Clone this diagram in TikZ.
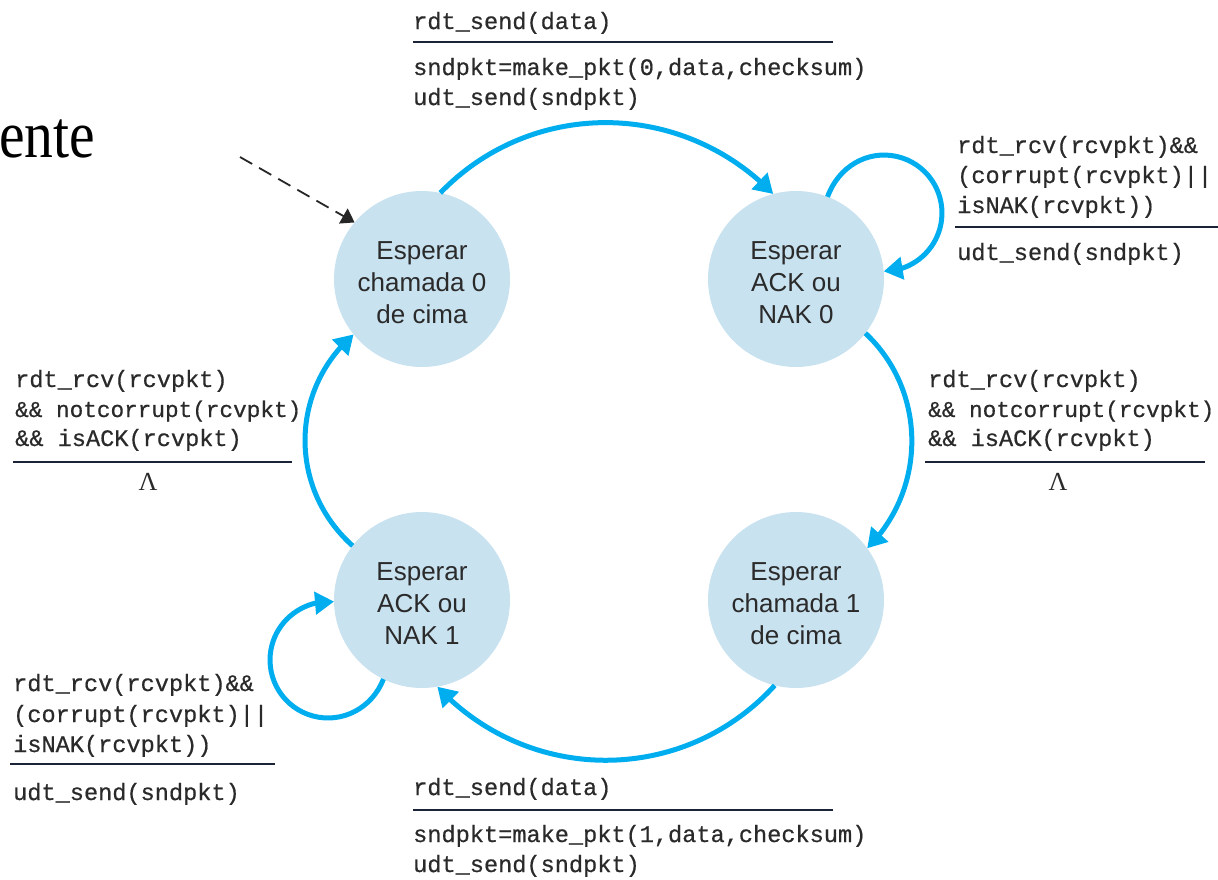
\documentclass[tikz,border=0pt]{standalone}
\usepackage{fontspec}
\setmainfont{Liberation Serif}
\newfontfamily\codefont[FakeBold=0.6]{Liberation Mono}
\newfontfamily\statefont{Liberation Sans}
\usetikzlibrary{arrows.meta,bending}
\definecolor{flowblue}{HTML}{00AEEF}
\definecolor{statefill}{HTML}{C9E2F0}
\definecolor{rulecol}{HTML}{1A2436}
\definecolor{txtcol}{HTML}{2A2A2A}
\begin{document}
\begin{tikzpicture}[x=1pt,y=-1pt,
  state/.style={circle, fill=statefill, minimum size=176pt, inner sep=0pt, outer sep=0pt, align=center, text=txtcol, font=\statefont\fontsize{26}{32}\selectfont},
  flow/.style={draw=flowblue, line width=5pt, -{Triangle[length=19pt,width=22pt]}},
  code/.style={anchor=base west, inner sep=0pt, text=txtcol, font=\codefont\fontsize{23.6}{30}\selectfont},
  codenarrow/.style={code, font=\codefont\fontsize{22.7}{30}\selectfont},
  lam/.style={anchor=base, inner sep=0pt, text=txtcol, font=\fontsize{26}{28}\selectfont},
  rulex/.style={draw=rulecol, line width=2pt},
  init/.style={draw=black!85, line width=1.8pt, dash pattern=on 14pt off 8pt, -{Triangle[length=13pt,width=17pt]}}
]
\useasboundingbox (0,0) rectangle (1218,879);

% partial title
\node[anchor=base west, inner sep=0pt, xscale=0.86, font=\fontsize{67}{70}\selectfont] (title) at (-1,157) {ente};

% states
\node[state] (A) at (422,279) {\rule{0pt}{25pt}Esperar\\chamada 0\\de cima};
\node[state] (B) at (796,279) {\rule{0pt}{25pt}Esperar\\ACK ou\\NAK 0};
\node[state] (C) at (422,600) {\rule{0pt}{25pt}Esperar\\ACK ou\\NAK 1};
\node[state] (D) at (796,600) {\rule{0pt}{25pt}Esperar\\chamada 1\\de cima};

% transitions
\draw[flow] (A.78) .. controls (531,99) and (681,99) .. (B.105);
\draw[flow] (B.69) .. controls (838.4,166.5) and (867.5,150) .. (896.5,156.4)
   .. controls (925.5,162.8) and (944.9,190) .. (941.6,219.5)
   .. controls (938.3,249) and (913.3,271.2) .. (B.5);
\draw[flow] (B.-38) .. controls (927,391) and (927,489) .. (D.36);
\draw[flow] (D.256) .. controls (684,785) and (529,785) .. (C.280);
\draw[flow] (C.244) .. controls (372.2,708.1) and (342.1,723.8) .. (313,716)
   .. controls (283.9,708.2) and (265.7,679.5) .. (270.9,649.9)
   .. controls (276.1,620.3) and (303.1,599.6) .. (C.181);
\draw[flow] (C.142) .. controls (289,489) and (289,391) .. (A.219);
\coordinate (init) at (240,157);
\draw[init] (init) -- (A.140);

% top label
\node[code] (t1) at (413,29) {rdt\_send(data)};
\draw[rulex] (413,42) -- (833,42);
\node[code] (t2) at (413,75) {sndpkt=make\_pkt(0,data,checksum)};
\node[code] (t3) at (413,105) {udt\_send(sndpkt)};

% top-right label
\node[code] (r1) at (957,153) {rdt\_rcv(rcvpkt)\&\&};
\node[code] (r2) at (957,183) {(corrupt(rcvpkt)||};
\node[code] (r3) at (957,213) {isNAK(rcvpkt))};
\draw[rulex] (955,227) -- (1218,227);
\node[code] (r4) at (957,260) {udt\_send(sndpkt)};

% right label
\node[code] (m1) at (928,387) {rdt\_rcv(rcvpkt)};
\node[codenarrow] (m2) at (928,417) {\&\& notcorrupt(rcvpkt)};
\node[code] (m3) at (928,446) {\&\& isACK(rcvpkt)};
\draw[rulex] (925,462) -- (1205,462);
\node[lam] (m4) at (1058,490) {Λ};

% left label
\node[code] (l1) at (15,387) {rdt\_rcv(rcvpkt)};
\node[codenarrow] (l2) at (15,417) {\&\& notcorrupt(rcvpkt)};
\node[code] (l3) at (15,446) {\&\& isACK(rcvpkt)};
\draw[rulex] (13,462) -- (292,462);
\node[lam] (l4) at (148,490) {Λ};

% bottom-left label
\node[code] (b1) at (13,691) {rdt\_rcv(rcvpkt)\&\&};
\node[code] (b2) at (13,722) {(corrupt(rcvpkt)||};
\node[code] (b3) at (13,752) {isNAK(rcvpkt))};
\draw[rulex] (10,764) -- (275,764);
\node[code] (b4) at (13,800) {udt\_send(sndpkt)};

% bottom label
\node[code] (u1) at (413,795) {rdt\_send(data)};
\draw[rulex] (413,810) -- (833,810);
\node[code] (u2) at (413,842) {sndpkt=make\_pkt(1,data,checksum)};
\node[code] (u3) at (413,872) {udt\_send(sndpkt)};
\end{tikzpicture}
\end{document}
